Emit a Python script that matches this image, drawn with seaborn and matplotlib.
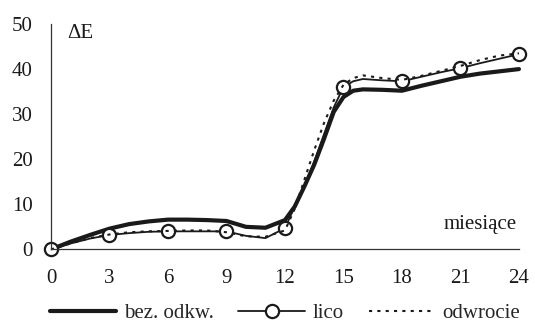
import numpy as np
import pandas as pd
import matplotlib
matplotlib.use("Agg")
import matplotlib.pyplot as plt
import seaborn as sns

# Dane (miesiące; gęściej w stromym odcinku 12-16)
miesiace = [0, 1, 2, 3, 4, 5, 6, 7, 8, 9, 10, 11, 12, 12.5, 13, 13.5, 14, 14.5,
            15, 15.5, 16, 17, 18, 19, 20, 21, 22, 23, 24]
bez_odkw = [0, 1.7, 3.2, 4.6, 5.6, 6.2, 6.6, 6.6, 6.5, 6.3, 5.0, 4.8, 6.5, 9.5,
            14.0, 18.8, 24.5, 30.5, 33.8, 35.2, 35.5, 35.4, 35.2, 36.3, 37.3,
            38.3, 39.0, 39.5, 40.0]
lico = [0, 1.3, 2.4, 3.2, 3.6, 3.9, 4.0, 4.0, 4.0, 4.0, 3.0, 2.5, 4.7, 9.5,
        14.0, 19.5, 25.5, 31.5, 36.0, 37.3, 37.8, 37.5, 37.3, 38.3, 39.3,
        40.2, 41.3, 42.3, 43.3]
odwrocie = [0, 1.3, 2.5, 3.3, 3.8, 4.0, 4.1, 4.2, 4.2, 3.8, 2.9, 2.8, 4.2, 9.0,
            15.5, 22.0, 28.0, 33.0, 36.5, 38.0, 38.6, 38.0, 37.6, 38.5, 39.6,
            40.7, 42.0, 43.0, 43.5]
x_ticks = [0, 3, 6, 9, 12, 15, 18, 21, 24]
y_ticks = [0, 10, 20, 30, 40, 50]

sns.set_style("white")
plt.rcParams['font.family'] = ['Liberation Serif', 'DejaVu Serif']
FS = 15
KOLOR = '#1a1a1a'

fig = plt.figure(figsize=(5.35, 3.29), dpi=100)
ax = fig.add_axes([0.0953, 0.242, 0.8747, 0.685])

# punkty pomiarowe "lico" tylko co 3 miesiące
znaczniki = [i for i, m in enumerate(miesiace) if m in x_ticks]

sns.lineplot(x=miesiace, y=bez_odkw, ax=ax, color=KOLOR, linewidth=3.0,
             label='bez. odkw.')
sns.lineplot(x=miesiace, y=lico, ax=ax, color=KOLOR, linewidth=1.3,
             marker='o', markersize=9.5, markerfacecolor='white',
             markeredgecolor=KOLOR, markeredgewidth=1.6,
             markevery=znaczniki, label='lico')
sns.lineplot(x=miesiace, y=odwrocie, ax=ax, color=KOLOR, linewidth=1.5,
             linestyle=(0, (1.5, 2.5)), label='odwrocie')

ax.set_xlim(0, 24)
ax.set_ylim(0, 50)
ax.set_xticks(x_ticks)
ax.set_yticks(y_ticks)
ax.tick_params(axis='x', direction='out', length=5, width=0.8, colors='#333333',
               labelcolor=KOLOR, labelsize=FS, pad=9)
ax.tick_params(axis='y', direction='in', length=5, width=0.8, colors='#333333',
               labelcolor=KOLOR, labelsize=FS, pad=13)
for s in ['top', 'right']:
    ax.spines[s].set_visible(False)
for s in ['left', 'bottom']:
    ax.spines[s].set_color('#333333')
    ax.spines[s].set_linewidth(0.9)
ax.set_xlabel('')
ax.set_ylabel('')

ax.text(0.034, 0.96, 'ΔE', transform=ax.transAxes, fontsize=FS,
        va='center', ha='left', color=KOLOR)
ax.text(0.996, 0.109, 'miesiące', transform=ax.transAxes, fontsize=FS,
        va='center', ha='right', color=KOLOR)

ax.legend(loc='center', bbox_to_anchor=(0.5, -0.285), ncol=3, frameon=False,
          fontsize=FS, handlelength=3.2, handletextpad=0.35, columnspacing=1.2)
for line in ax.lines:
    line.set_clip_on(False)

fig.savefig('out.png', dpi=100)
